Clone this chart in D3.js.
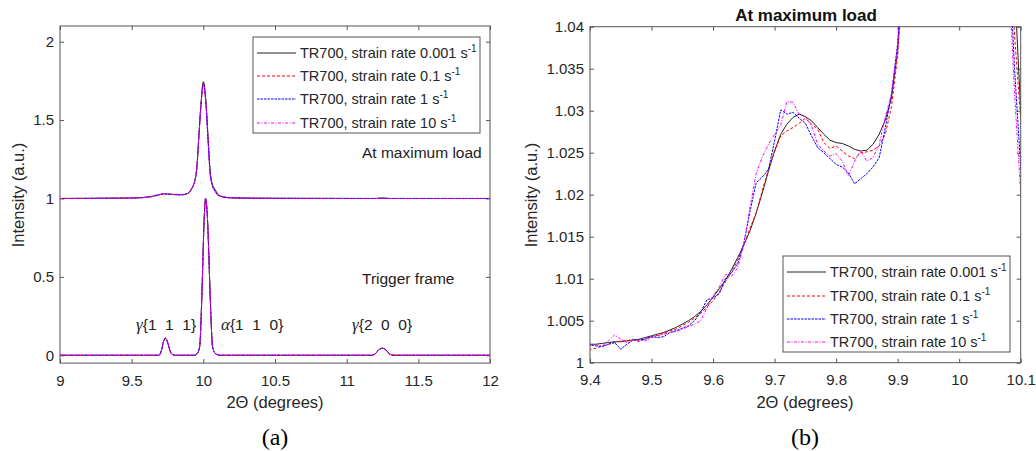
<!DOCTYPE html>
<html lang="en">
<head>
<meta charset="UTF-8">
<title>TR700 diffraction profiles</title>
<script src="https://d3js.org/d3.v7.min.js"></script>
<style>
    body { margin: 0; background: #fff; }
    svg { font-family: "Liberation Sans", Arial, sans-serif; }
    .tick text { font-size: 15px; fill: #262626; }
    .tick line { stroke: #555; }
    .domain { display: none; }
</style>
</head>
<body>
<div id="chart"></div>
<script>
// ---- data ----
const seriesNames = ["TR700, strain rate 0.001 s", "TR700, strain rate 0.1 s", "TR700, strain rate 1 s", "TR700, strain rate 10 s"];

// 2-theta grid of the "at maximum load" profiles
const maxLoadX = [9.0, 9.2,
    9.40, 9.41, 9.42, 9.43, 9.44, 9.45, 9.46, 9.47, 9.48, 9.49,
    9.50, 9.51, 9.52, 9.53, 9.54, 9.55, 9.56, 9.57, 9.58, 9.59,
    9.60, 9.61, 9.62, 9.63, 9.64, 9.65, 9.66, 9.67, 9.68, 9.69,
    9.70, 9.71, 9.72, 9.73, 9.74, 9.75, 9.76, 9.77, 9.78, 9.79,
    9.80, 9.81, 9.82, 9.83, 9.84, 9.85, 9.86, 9.87, 9.88, 9.89, 9.90,
    9.91, 9.92, 9.94, 9.955, 9.968, 9.984, 10.0, 10.019, 10.033, 10.047, 10.06, 10.07, 10.08, 10.09, 10.1,
    10.12, 10.15, 10.2, 10.3, 10.5, 11.2, 11.25, 11.3, 12.0];

const maxLoad0001 = [1.0000, 1.0008,
    1.0022, 1.0022, 1.0023, 1.0024, 1.0025, 1.0025, 1.0026, 1.0027, 1.0028, 1.0030,
    1.0032, 1.0034, 1.0036, 1.0039, 1.0042, 1.0046, 1.0050, 1.0055, 1.0061, 1.0069,
    1.0078, 1.0088, 1.0098, 1.0111, 1.0125, 1.0140, 1.0157, 1.0178, 1.0202, 1.0228,
    1.0252, 1.0272, 1.0284, 1.0292, 1.0296, 1.0293, 1.0288, 1.0280, 1.0272, 1.0265,
    1.0262, 1.0261, 1.0258, 1.0254, 1.0252, 1.0253, 1.0260, 1.0272, 1.0289, 1.0315, 1.0372,
    1.048, 1.065, 1.11, 1.20, 1.39, 1.61, 1.745, 1.61, 1.39, 1.18, 1.10, 1.075, 1.06, 1.045, 1.030,
    1.015, 1.008, 1.004, 1.002, 1.001, 1.000, 1.002, 1.000, 1.000];

const maxLoad01 = [1.0000, 1.0007,
    1.0016, 1.0017, 1.0020, 1.0022, 1.0024, 1.0026, 1.0026, 1.0028, 1.0025, 1.0029,
    1.0030, 1.0033, 1.0035, 1.0038, 1.0040, 1.0044, 1.0048, 1.0053, 1.0059, 1.0066,
    1.0074, 1.0084, 1.0096, 1.0108, 1.0122, 1.0140, 1.0160, 1.0178, 1.0205, 1.0230,
    1.0252, 1.0270, 1.0276, 1.0280, 1.0285, 1.0291, 1.0284, 1.0278, 1.0262, 1.0255,
    1.0258, 1.0252, 1.0246, 1.0243, 1.0250, 1.0251, 1.0253, 1.0258, 1.0272, 1.0305, 1.0365,
    1.047, 1.064, 1.11, 1.20, 1.38, 1.60, 1.735, 1.60, 1.38, 1.17, 1.095, 1.07, 1.055, 1.039, 1.029,
    1.015, 1.008, 1.004, 1.002, 1.001, 1.000, 1.002, 1.000, 1.000];

const maxLoad1 = [1.0000, 1.0008,
    1.0021, 1.0020, 1.0019, 1.0022, 1.0024, 1.0016, 1.0022, 1.0027, 1.0027, 1.0028,
    1.0031, 1.0030, 1.0031, 1.0036, 1.0038, 1.0041, 1.0044, 1.0050, 1.0060, 1.0075,
    1.0077, 1.0082, 1.0100, 1.0107, 1.0118, 1.0142, 1.0180, 1.0214, 1.0221, 1.0230,
    1.0264, 1.0301, 1.0296, 1.0298, 1.0291, 1.0285, 1.0270, 1.0256, 1.0250, 1.0243,
    1.0236, 1.0233, 1.0226, 1.0213, 1.0219, 1.0225, 1.0233, 1.0244, 1.0280, 1.0320, 1.0380,
    1.050, 1.066, 1.11, 1.20, 1.38, 1.60, 1.730, 1.59, 1.37, 1.17, 1.09, 1.065, 1.05, 1.035, 1.0233,
    1.014, 1.008, 1.004, 1.002, 1.001, 1.000, 1.002, 1.000, 1.000];

const maxLoad10 = [1.0000, 1.0008,
    1.0020, 1.0021, 1.0020, 1.0026, 1.0033, 1.0028, 1.0024, 1.0027, 1.0027, 1.0026,
    1.0030, 1.0032, 1.0034, 1.0036, 1.0037, 1.0040, 1.0043, 1.0046, 1.0050, 1.0065,
    1.0080, 1.0090, 1.0105, 1.0103, 1.0113, 1.0140, 1.0185, 1.0225, 1.0245, 1.0260,
    1.0272, 1.0283, 1.0311, 1.0310, 1.0295, 1.0293, 1.0282, 1.0260, 1.0252, 1.0246,
    1.0249, 1.0240, 1.0222, 1.0240, 1.0252, 1.0240, 1.0244, 1.0260, 1.0293, 1.0320, 1.0375,
    1.049, 1.066, 1.11, 1.20, 1.38, 1.60, 1.725, 1.59, 1.37, 1.16, 1.09, 1.062, 1.047, 1.032, 1.0202,
    1.013, 1.007, 1.004, 1.002, 1.001, 1.000, 1.002, 1.000, 1.000];

// trigger frame profile (identical for the four rates)
const triggerX = [9.0, 9.69, 9.71, 9.72, 9.735, 9.75, 9.765, 9.78, 9.80,
    9.94, 9.96, 9.975, 9.985, 9.993, 10.005, 10.016, 10.03, 10.044, 10.055, 10.064, 10.08, 10.1, 10.12,
    11.17, 11.2, 11.225, 11.25, 11.275, 11.3, 11.33, 12.0];
const triggerY = [0, 0, 0.04, 0.08, 0.11, 0.085, 0.035, 0.008, 0,
    0, 0.015, 0.06, 0.25, 0.48, 0.85, 1.0, 0.85, 0.48, 0.2, 0.055, 0.015, 0.003, 0,
    0, 0.01, 0.035, 0.045, 0.033, 0.008, 0, 0];

const maxLoadSeries = [maxLoad0001, maxLoad01, maxLoad1, maxLoad10];

const leftXTicks = [9, 9.5, 10, 10.5, 11, 11.5, 12];
const leftYTicks = [0, 0.5, 1, 1.5, 2];
const rightXTicks = [9.4, 9.5, 9.6, 9.7, 9.8, 9.9, 10, 10.1];
const rightYTicks = [1, 1.005, 1.01, 1.015, 1.02, 1.025, 1.03, 1.035, 1.04];

// ---- styles ----
const colors = ["#222", "#ff0000", "#0000ff", "#ff00ff"];
const dashes = [null, "3,2", "2.5,1", "3,1.5,1,1.5"];

const svg = d3.select("#chart").append("svg")
    .attr("width", 1036).attr("height", 451);

function panel(id, xDom, yDom, xRange, yRange, xTicks, yTicks, yFmt, curve) {
    const x = d3.scaleLinear().domain(xDom).range(xRange);
    const y = d3.scaleLinear().domain(yDom).range(yRange);
    const g = svg.append("g");

    g.append("clipPath").attr("id", id)
        .append("rect")
        .attr("x", xRange[0]).attr("y", yRange[1])
        .attr("width", xRange[1] - xRange[0]).attr("height", yRange[0] - yRange[1]);

    g.append("g").attr("transform", `translate(0,${yRange[0]})`)
        .call(d3.axisBottom(x).tickValues(xTicks).tickSize(-4).tickPadding(12).tickFormat(d3.format("")));
    g.append("g").attr("transform", `translate(0,${yRange[1]})`)
        .call(d3.axisTop(x).tickValues(xTicks).tickSize(-4).tickFormat(""));
    g.append("g").attr("transform", `translate(${xRange[0]},0)`)
        .call(d3.axisLeft(y).tickValues(yTicks).tickSize(-4).tickPadding(6).tickFormat(yFmt));
    g.append("g").attr("transform", `translate(${xRange[1]},0)`)
        .call(d3.axisRight(y).tickValues(yTicks).tickSize(-4).tickFormat(""));

    const lines = g.append("g").attr("clip-path", `url(#${id})`);
    return {x, y, g, lines, curve};
}

function drawLines(p, xs, ys, i) {
    const line = d3.line()
        .x((d, k) => p.x(xs[k]))
        .y(d => p.y(d))
        .curve(p.curve);
    p.lines.append("path")
        .attr("d", line(ys))
        .attr("fill", "none")
        .attr("stroke", colors[i])
        .attr("stroke-width", 1)
        .attr("stroke-dasharray", dashes[i]);
}

function box(p, xr, yr) {
    p.g.append("rect")
        .attr("x", xr[0]).attr("y", yr[1])
        .attr("width", xr[1] - xr[0]).attr("height", yr[0] - yr[1])
        .attr("fill", "none").attr("stroke", "#555").attr("stroke-width", 1);
}

function legend(g, x0, y0, w, h, rowYs) {
    g.append("rect").attr("x", x0).attr("y", y0).attr("width", w).attr("height", h)
        .attr("fill", "#fff").attr("stroke", "#555");
    seriesNames.forEach((name, i) => {
        const cy = rowYs[i];
        g.append("line").attr("x1", x0 + 4).attr("x2", x0 + 43)
            .attr("y1", cy).attr("y2", cy)
            .attr("stroke", colors[i]).attr("stroke-dasharray", dashes[i]);
        const t = g.append("text").attr("x", x0 + 47).attr("y", cy + 5)
            .attr("font-size", 14.5).attr("fill", "#262626").text(name);
        t.append("tspan").attr("font-size", 10).attr("dy", -6).text("-1");
    });
}

function fmtY(d) { return String(+d.toFixed(3)); }

// ---- left panel (a) ----
const LX = [60, 490], LY = [363.1, 26];
const left = panel("clipL", [9, 12], [-0.05, 2.1], LX, LY, leftXTicks, leftYTicks, fmtY, d3.curveMonotoneX);
maxLoadSeries.forEach((ys, i) => drawLines(left, maxLoadX, ys, i));
maxLoadSeries.forEach((ys, i) => drawLines(left, triggerX, triggerY, i));
box(left, LX, LY);
legend(left.g, 253, 37, 227, 96, [53, 76, 99, 123]);

left.g.append("text").attr("x", 362).attr("y", 158).attr("font-size", 15.5).attr("fill", "#222").text("At maximum load");
left.g.append("text").attr("x", 362).attr("y", 284).attr("font-size", 15.5).attr("fill", "#222").text("Trigger frame");

const peakLabels = [["γ", "{1  1  1}", 136], ["α", "{1  1  0}", 221], ["γ", "{2  0  0}", 352]];
peakLabels.forEach(([greek, hkl, px]) => {
    const t = left.g.append("text").attr("x", px).attr("y", 330)
        .attr("font-size", 15.5).attr("fill", "#222").style("white-space", "pre");
    t.append("tspan").attr("font-family", "Liberation Serif, serif").attr("font-style", "italic")
        .attr("font-size", 17).text(greek);
    t.append("tspan").text(hkl);
});

left.g.append("text").attr("x", 275).attr("y", 408).attr("text-anchor", "middle")
    .attr("font-size", 16.5).attr("fill", "#262626").text("2Θ (degrees)");
left.g.append("text").attr("transform", "translate(24,195) rotate(-90)").attr("text-anchor", "middle")
    .attr("font-size", 16.5).attr("fill", "#262626").text("Intensity (a.u.)");
left.g.append("text").attr("x", 275).attr("y", 445).attr("text-anchor", "middle")
    .attr("font-family", "Liberation Serif, serif").attr("font-size", 24).text("(a)");

// ---- right panel (b) ----
const RX = [590, 1020.7], RY = [362.7, 26.7];
const right = panel("clipR", [9.4, 10.1], [1, 1.04], RX, RY, rightXTicks, rightYTicks, fmtY, d3.curveLinear);
maxLoadSeries.forEach((ys, i) => drawLines(right, maxLoadX, ys, i));
box(right, RX, RY);
legend(right.g, 783, 256, 227, 96, [272, 296, 319, 342]);

right.g.append("text").attr("x", 806).attr("y", 21).attr("text-anchor", "middle")
    .attr("font-size", 17).attr("font-weight", "bold").attr("fill", "#111").text("At maximum load");
right.g.append("text").attr("x", 805).attr("y", 408).attr("text-anchor", "middle")
    .attr("font-size", 16.5).attr("fill", "#262626").text("2Θ (degrees)");
right.g.append("text").attr("transform", "translate(537,195) rotate(-90)").attr("text-anchor", "middle")
    .attr("font-size", 16.5).attr("fill", "#262626").text("Intensity (a.u.)");
right.g.append("text").attr("x", 805).attr("y", 445).attr("text-anchor", "middle")
    .attr("font-family", "Liberation Serif, serif").attr("font-size", 24).text("(b)");
</script>
</body>
</html>
